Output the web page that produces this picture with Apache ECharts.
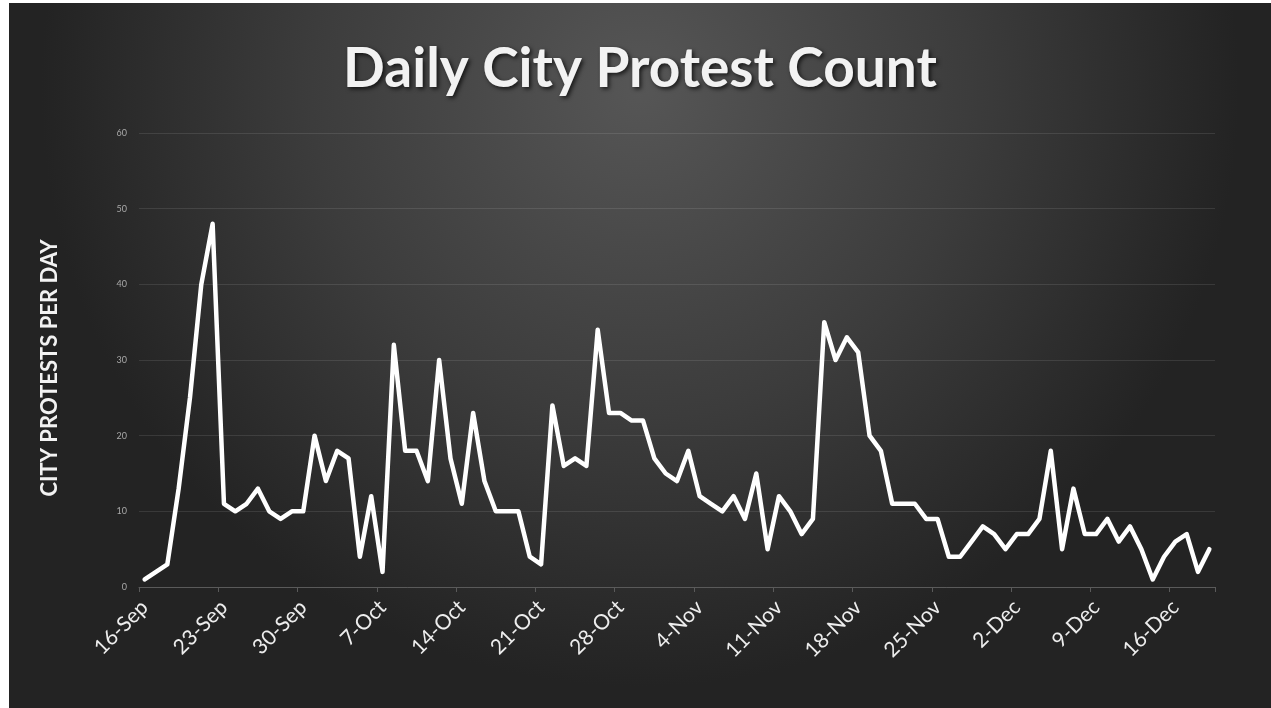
<!DOCTYPE html>
<html>
<head>
<meta charset="utf-8">
<script src="https://cdn.jsdelivr.net/npm/echarts@6/dist/echarts.min.js"></script>
<style>
html,body{margin:0;padding:0;background:#ffffff;width:1271px;height:708px;overflow:hidden;}
#chart{position:absolute;left:9px;top:3px;width:1262px;height:705px;}
</style>
</head>
<body>
<div id="chart"></div>
<script>
const titleText = 'Daily City Protest Count';
const yAxisTitle = 'CITY PROTESTS PER DAY';
const dates = [
 '16-Sep','17-Sep','18-Sep','19-Sep','20-Sep','21-Sep','22-Sep','23-Sep','24-Sep','25-Sep','26-Sep','27-Sep','28-Sep','29-Sep','30-Sep',
 '1-Oct','2-Oct','3-Oct','4-Oct','5-Oct','6-Oct','7-Oct','8-Oct','9-Oct','10-Oct','11-Oct','12-Oct','13-Oct','14-Oct','15-Oct','16-Oct','17-Oct','18-Oct','19-Oct','20-Oct','21-Oct','22-Oct','23-Oct','24-Oct','25-Oct','26-Oct','27-Oct','28-Oct','29-Oct','30-Oct','31-Oct',
 '1-Nov','2-Nov','3-Nov','4-Nov','5-Nov','6-Nov','7-Nov','8-Nov','9-Nov','10-Nov','11-Nov','12-Nov','13-Nov','14-Nov','15-Nov','16-Nov','17-Nov','18-Nov','19-Nov','20-Nov','21-Nov','22-Nov','23-Nov','24-Nov','25-Nov','26-Nov','27-Nov','28-Nov','29-Nov','30-Nov',
 '1-Dec','2-Dec','3-Dec','4-Dec','5-Dec','6-Dec','7-Dec','8-Dec','9-Dec','10-Dec','11-Dec','12-Dec','13-Dec','14-Dec','15-Dec','16-Dec','17-Dec','18-Dec','19-Dec'
];
const protests = [
 1,2,3,13,25,40,48,11,10,11,13,10,9,10,10,
 20,14,18,17,4,12,2,32,18,18,14,30,17,11,23,14,10,10,10,4,3,24,16,17,16,34,23,23,22,22,17,
 15,14,18,12,11,10,12,9,15,5,12,10,7,9,35,30,33,31,20,18,11,11,11,9,9,4,4,6,8,7,
 5,7,7,9,18,5,13,7,7,9,6,8,5,1,4,6,7,2,5
];
const yMin = 0, yMax = 60, yStep = 10;

const chart = echarts.init(document.getElementById('chart'));
chart.setOption({
  backgroundColor: {
    type: 'radial', x: 0.5, y: 0.12, r: 0.85,
    colorStops: [
      {offset: 0, color: '#565656'},
      {offset: 0.55, color: '#3c3c3c'},
      {offset: 1, color: '#232323'}
    ]
  },
  animation: false,
  title: {
    text: titleText,
    left: 'center',
    top: 34,
    textStyle: {
      fontFamily: 'Lato',
      fontWeight: 'bold',
      fontSize: 55,
      color: '#f2f2f2',
      textShadowColor: 'rgba(0,0,0,0.7)',
      textShadowBlur: 4,
      textShadowOffsetX: 2,
      textShadowOffsetY: 2
    }
  },
  grid: {left: 130, right: 56, top: 130, bottom: 121},
  xAxis: {
    type: 'category',
    data: dates,
    boundaryGap: true,
    axisLine: {lineStyle: {color: '#5a5a5a', width: 1}},
    axisTick: {show: true, interval: 6, length: 5, lineStyle: {color: '#5a5a5a'}},
    axisLabel: {
      interval: 6, rotate: 45, color: '#ededed',
      fontFamily: 'Lato', fontSize: 21, margin: 17
    },
    splitLine: {show: false}
  },
  yAxis: {
    type: 'value',
    min: yMin, max: yMax, interval: yStep,
    name: yAxisTitle,
    nameLocation: 'middle',
    nameGap: 78,
    nameRotate: 90,
    nameTextStyle: {color: '#f2f2f2', fontFamily: 'Lato', fontWeight: 'bold', fontSize: 22, padding: [0, 16, 0, 0]},
    axisLine: {show: false},
    axisTick: {show: false},
    axisLabel: {color: '#a8a8a8', fontFamily: 'Lato', fontSize: 9, margin: 12},
    splitLine: {lineStyle: {color: 'rgba(255,255,255,0.1)', width: 1}}
  },
  series: [{
    type: 'line',
    data: protests,
    showSymbol: false,
    symbol: 'none',
    lineStyle: {color: '#ffffff', width: 4.5, join: 'round', cap: 'round'},
    itemStyle: {color: '#ffffff'}
  }]
});
</script>
</body>
</html>
